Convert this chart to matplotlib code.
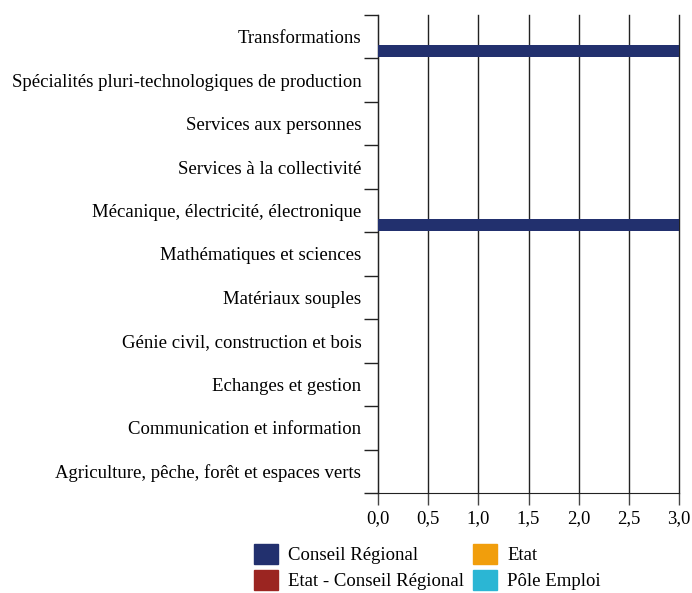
import matplotlib
matplotlib.use("Agg")
import matplotlib.pyplot as plt
from matplotlib.patches import Patch
import numpy as np

plt.rcParams['font.family'] = ['Liberation Serif', 'DejaVu Serif']

categories = [
    "Agriculture, pêche, forêt et espaces verts",
    "Communication et information",
    "Echanges et gestion",
    "Génie civil, construction et bois",
    "Matériaux souples",
    "Mathématiques et sciences",
    "Mécanique, électricité, électronique",
    "Services à la collectivité",
    "Services aux personnes",
    "Spécialités pluri-technologiques de production",
    "Transformations",
]
series_names = ["Conseil Régional", "Etat", "Etat - Conseil Régional", "Pôle Emploi"]
conseil_regional = [0, 0, 0, 0, 0, 0, 3, 0, 0, 0, 3]
etat = [0, 0, 0, 0, 0, 0, 0, 0, 0, 0, 0]
etat_conseil_regional = [0, 0, 0, 0, 0, 0, 0, 0, 0, 0, 0]
pole_emploi = [0, 0, 0, 0, 0, 0, 0, 0, 0, 0, 0]
x_ticks = [0.0, 0.5, 1.0, 1.5, 2.0, 2.5, 3.0]
x_tick_labels = ["0,0", "0,5", "1,0", "1,5", "2,0", "2,5", "3,0"]

colors = ["#22306e", "#f19e0c", "#9b2521", "#2bb6d4"]
series = [conseil_regional, etat, etat_conseil_regional, pole_emploi]
offsets = [-0.33, -0.1, 0.1, 0.3]
bar_h = 0.29
FS = 13.5

fig = plt.figure(figsize=(6.92, 5.93), dpi=100)
ax = fig.add_axes([378/692, 1-493/593, (679-378)/692, (493-15)/593])

y = np.arange(len(categories))
for vals, col, off in zip(series, colors, offsets):
    v = np.array(vals, dtype=float)
    mask = v > 0
    ax.barh(y[mask] + off, v[mask], height=bar_h, color=col, zorder=3)

ax.set_xlim(0, 3.0)
ax.set_ylim(-0.5, len(categories) - 0.5)

# x axis
ax.set_xticks(x_ticks)
ax.set_xticklabels(x_tick_labels, fontsize=FS)
ax.tick_params(axis='x', length=8.5, width=1, color='#444444', pad=4)
ax.grid(axis='x', color='#222222', linewidth=1, zorder=1)
for gl in ax.get_xgridlines():
    gl.set_clip_on(False)

# y axis: ticks at band boundaries, labels centered
ax.set_yticks(np.arange(len(categories) + 1) - 0.5)
ax.set_yticklabels([])
ax.set_yticks(y, minor=True)
ax.set_yticklabels(categories, minor=True, fontsize=FS)
ax.tick_params(axis='y', which='major', length=10, width=1, color='#222222')
ax.tick_params(axis='y', which='minor', length=0, pad=12)

for s in ['top', 'right']:
    ax.spines[s].set_visible(False)
ax.spines['left'].set_color('#222222')
ax.spines['bottom'].set_color('#222222')

handles = [Patch(color=colors[0], label=series_names[0]),
           Patch(color=colors[2], label=series_names[2]),
           Patch(color=colors[1], label=series_names[1]),
           Patch(color=colors[3], label=series_names[3])]
fig.legend(handles=handles, ncol=2, loc='upper left',
           bbox_to_anchor=(252/692, 1-542/593), frameon=False,
           fontsize=FS, handlelength=1.28, handleheight=1.28,
           handletextpad=0.53, columnspacing=0.5, labelspacing=0.3,
           borderpad=0.1, borderaxespad=0)

fig.savefig("out.png", dpi=100)
